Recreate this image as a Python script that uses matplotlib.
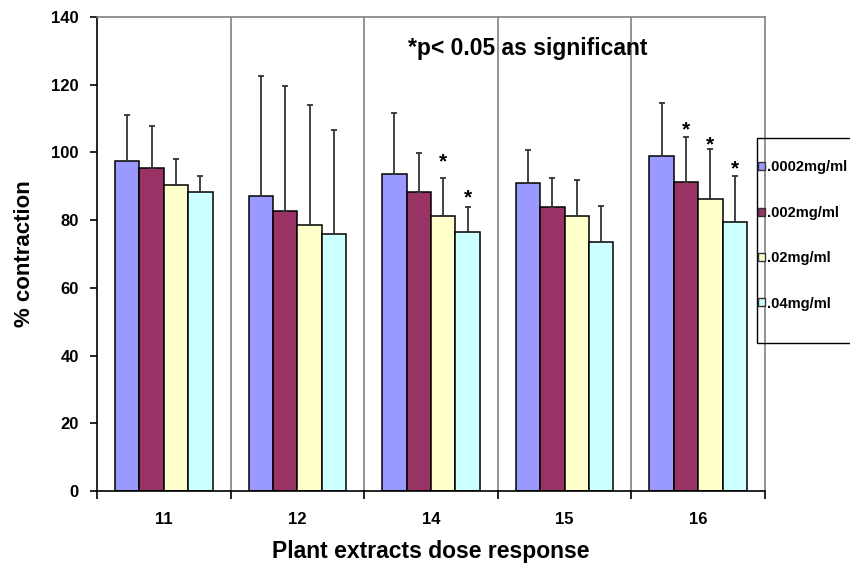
import numpy as np
import matplotlib.pyplot as plt
from matplotlib.patches import Patch, Rectangle

plt.rcParams['font.family'] = ['Liberation Sans', 'DejaVu Sans']
plt.rcParams['font.weight'] = 'bold'

groups = ['11', '12', '14', '15', '16']
doses = ['.0002mg/ml', '.002mg/ml', '.02mg/ml', '.04mg/ml']
colors = ['#9999FF', '#993366', '#FFFFCC', '#CCFFFF']

# mean % contraction per dose (rows) and extract (columns)
means = [
    [97.6, 87.0, 93.7, 90.9, 99.0],
    [95.3, 82.6, 88.4, 84.0, 91.2],
    [90.5, 78.6, 81.1, 81.3, 86.2],
    [88.4, 76.0, 76.5, 73.6, 79.5],
]
# upper error (SD)
errors = [
    [13.4, 35.6, 18.0, 9.8, 15.6],
    [12.5, 37.0, 11.5, 8.5, 13.3],
    [7.7, 35.5, 11.4, 10.6, 14.8],
    [4.7, 30.5, 7.3, 10.7, 13.6],
]
# significance marks: dose index, group index, height of the star
sig_dose = [2, 3, 1, 2, 3]
sig_group = [2, 2, 4, 4, 4]
sig_y = [98.0, 87.4, 107.3, 102.9, 95.8]

fig = plt.figure(figsize=(8.5, 5.65), dpi=100)
ax = fig.add_axes([97/850, 74/565, 668/850, 474/565])

x = np.arange(len(groups))
w = 0.183
for i in range(len(doses)):
    xs = x + (i - 1.5) * w
    ax.bar(xs, means[i], w, color=colors[i], edgecolor='black', linewidth=1.1, zorder=2)
    ax.errorbar(xs, means[i], yerr=[np.zeros(len(groups)), errors[i]], fmt='none',
                ecolor='#333333', elinewidth=1.3, capsize=2.2, capthick=1.3, zorder=3)

for i, g, ys in zip(sig_dose, sig_group, sig_y):
    xs = x[g] + (i - 1.5) * w
    # '*' glyph sits high in its box, so pull the anchor down
    ax.annotate('*', (xs, ys), xytext=(0, -8.6), textcoords='offset points',
                ha='center', va='bottom', fontsize=15, fontweight='bold')

for b in x[:-1] + 0.5:
    ax.axvline(b, color='#808080', lw=1.2, zorder=1)

ax.set_xlim(-0.5, 4.5)
ax.set_ylim(0, 140)
ax.set_yticks(np.arange(0, 141, 20))
ax.set_xticks(x)
ax.set_xticklabels(groups)
ax.set_xticks(np.arange(-0.5, 4.6, 1), minor=True)
ax.tick_params(axis='x', which='major', length=0, pad=15, labelsize=12)
ax.tick_params(axis='x', which='minor', length=6, width=1.2, direction='out')
ax.tick_params(axis='y', length=5, width=1.2, direction='out', labelsize=12, pad=8)

for s in ['top', 'right']:
    ax.spines[s].set_color('#808080')
    ax.spines[s].set_linewidth(1.2)
for s in ['left', 'bottom']:
    ax.spines[s].set_color('black')
    ax.spines[s].set_linewidth(1.2)

ax.set_xlabel('Plant extracts dose response', fontsize=16.5, fontweight='bold', labelpad=9.5)
ax.set_ylabel('% contraction', fontsize=16, fontweight='bold', labelpad=12)

ax.text((528 - 97) / 668, (491 - 49) / 474, '*p< 0.05 as significant', transform=ax.transAxes,
        ha='center', va='center', fontsize=16.5, fontweight='bold')

# legend box sits partly outside the figure, as in the original
fig.add_artist(Rectangle((757/850, 1 - 343/565), 110/850, 205/565, transform=fig.transFigure,
                         fill=False, edgecolor='black', linewidth=1.0))
handles = [Patch(facecolor=c, edgecolor='#333333', linewidth=1) for c in colors]
fig.legend(handles, doses, loc='upper left', bbox_to_anchor=(757/850, 1 - 159/565),
           frameon=False, borderaxespad=0, borderpad=0.1,
           handlelength=0.45, handleheight=0.45, handletextpad=0.15,
           labelspacing=2.15, prop={'weight': 'bold', 'size': 10.5})

fig.savefig('out.png', dpi=100)
